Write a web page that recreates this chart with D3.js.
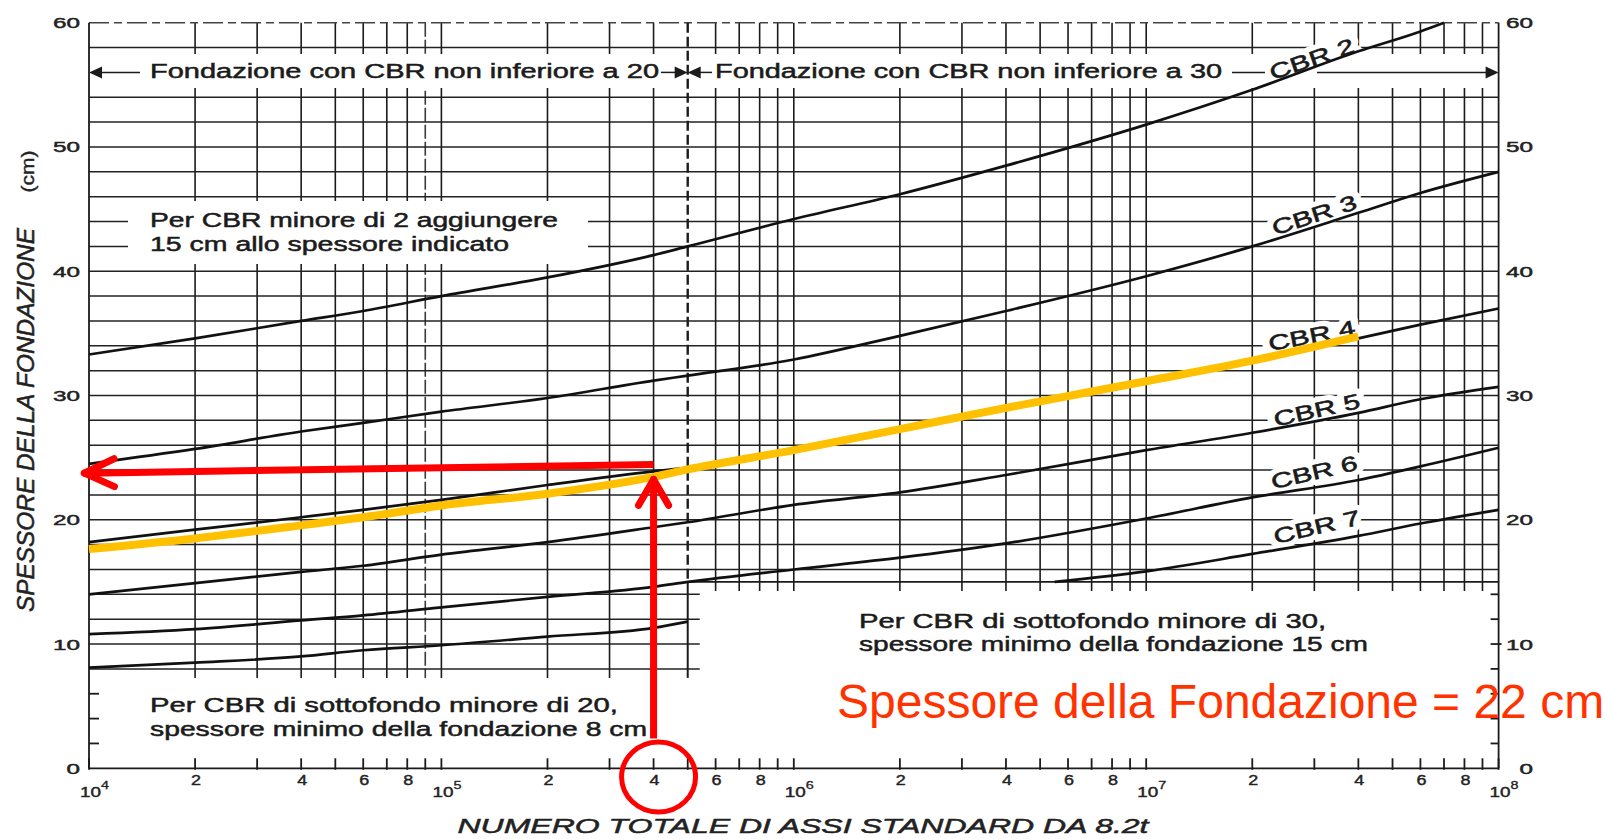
<!DOCTYPE html>
<html>
<head>
<meta charset="utf-8">
<script src="https://cdn.jsdelivr.net/npm/d3@7"></script>
<style>
  html, body { margin: 0; padding: 0; background: #fff; overflow: hidden; }
  svg { display: block; }
</style>
</head>
<body>
<svg id="abaco" width="1605" height="839"></svg>
<script>
// Numero totale di assi standard (punti di lettura delle curve)
const assi = [1e4, 2e4, 4e4, 6e4, 1e5, 2e5, 4e5, 5e5, 1e6, 2e6, 4e6, 5.5e6, 1e7, 2e7, 4e7, 6e7, 7e7, 1e8];

// Spessore della fondazione (cm) per ciascun CBR di sottofondo
const cbr2 = [33.3, 34.6, 36.0, 36.8, 38.0, 39.5, 41.3, 42.0, 44.2, 46.2, 48.5, null, 51.8, 54.6, 57.7, 59.3, 60.0, null];
const cbr3 = [24.5, 25.7, 27.1, 27.8, 28.7, 29.8, 31.2, 31.6, 32.9, 34.8, 36.8, null, 39.6, 42.0, 44.7, 46.3, null, 48.0];
const cbr4 = [18.2, 19.2, 20.2, 20.8, 21.6, 22.8, 23.9, 24.2, 25.7, 27.3, 29.0, null, 31.2, 32.8, 34.6, 35.7, null, 37.0];
const cbr5 = [14.0, 14.9, 15.8, 16.3, 17.2, 18.2, 19.4, 19.8, 21.2, 22.2, 23.6, null, 25.6, 27.0, 28.6, 29.7, null, 30.7];
const cbr6 = [10.8, 11.2, 11.9, 12.3, 12.95, 13.8, 14.6, 15.0, 16.0, 16.95, 18.1, null, 20.1, 21.8, 23.2, 24.3, null, 25.8];
const cbr7 = [8.1, 8.5, 9.0, 9.5, 9.9, 10.6, 11.3, 11.8, null, null, null, null, null, null, null, null, null, null];
const cbr7Oltre = [null, null, null, null, null, null, null, null, null, null, null, 15.0, 15.85, 17.25, 18.7, 19.7, null, 20.8];

// Curva evidenziata (CBR 4) usata per la lettura
const evidenziata = [17.65, 18.5, 19.55, 20.2, 21.15, 22.1, 23.45, 24.05, 25.6, 27.3, 29.0, null, 31.15, 32.8, 34.75, null, null, null];

const etichetteCbr = ["CBR 2", "CBR 3", "CBR 4", "CBR 5", "CBR 6", "CBR 7"];

// Assi: etichette
const decadi = [1e4, 1e5, 1e6, 1e7, 1e8];
const esponenti = ["4", "5", "6", "7", "8"];
const cifreTick = [2, 4, 6, 8];
const valoriY = [0, 10, 20, 30, 40, 50, 60];

// Lettura: asse di ingresso 4·10^5, spessore risultante
const letturaN = [4e5, 9.7e3];
const letturaCm = [24.45, 23.75];
const salitaCm = [2.4, 23.25];
const risultato = "Spessore della Fondazione = 22 cm";

// ---------------------------------------------------------------
const svg = d3.select("#abaco");
const FONT = "'Liberation Sans', Arial, Helvetica, sans-serif";
const INK = "#1b1b1b";

const x = d3.scaleLog().domain([1e4, 1e8]).range([89, 1498.6]);
const y = d3.scaleLinear().domain([0, 60]).range([768.3, 22.7]);

const X0 = x(1e4), X1 = x(1e8), XS = x(5e5);
const Y0 = y(0), YT = y(60);

function testo(g, str, opts) {
  const t = g.append("text")
    .attr("x", opts.x).attr("y", opts.y)
    .attr("font-family", FONT)
    .attr("font-size", opts.size)
    .attr("fill", opts.fill || INK)
    .attr("text-anchor", opts.anchor || "start")
    .text(str);
  if (opts.len) t.attr("textLength", opts.len).attr("lengthAdjust", "spacingAndGlyphs");
  if (opts.italic) t.attr("font-style", "italic");
  if (opts.transform) t.attr("transform", opts.transform);
  if (opts.peso) t.attr("stroke", opts.fill || INK).attr("stroke-width", opts.peso);
  return t;
}

// --- griglia -----------------------------------------------------
const suddivisioni = [];
for (let d = 4; d < 8; d++) for (let m = 1; m <= 9; m++) suddivisioni.push(m * 10 ** d);
suddivisioni.push(1e8);

const griglia = svg.append("g");
suddivisioni.filter(v => v > 1e4 && v < 1e8 && v !== 5e5).forEach(v => {
  const fondo = v < 5e5 ? y(8) + 9 : y(15) + 9;
  griglia.append("line")
    .attr("x1", x(v)).attr("x2", x(v)).attr("y1", YT).attr("y2", fondo)
    .attr("stroke", v === 9e4 ? "#3a3a3a" : INK)
    .attr("stroke-width", 1.6)
    .attr("stroke-dasharray", v === 9e4 ? "14 3" : null);
});

d3.range(8, 61, 2).filter(c => c !== 56).forEach(c => {
  const fine = c >= 16 ? X1 : XS + 12;
  griglia.append("line")
    .attr("x1", X0).attr("x2", fine).attr("y1", y(c)).attr("y2", y(c))
    .attr("stroke", c === 60 ? "#444" : "#222")
    .attr("stroke-width", 1.5)
    .attr("stroke-dasharray", c === 60 ? "20 5 8 5" : null);
});
griglia.append("line")
  .attr("x1", XS).attr("x2", X1).attr("y1", y(15)).attr("y2", y(15))
  .attr("stroke", INK).attr("stroke-width", 1.9);

// fasce bianche sotto le scritte
svg.append("rect").attr("x", X0 + 1).attr("y", 54).attr("width", X1 - X0 - 2).attr("height", 34).attr("fill", "#fff");
svg.append("rect").attr("x", 128).attr("y", 201).attr("width", 460).attr("height", 63).attr("fill", "#fff");

// separazione CBR 20 / CBR 30
svg.append("line")
  .attr("x1", XS).attr("x2", XS).attr("y1", YT).attr("y2", y(15))
  .attr("stroke", INK).attr("stroke-width", 2.4).attr("stroke-dasharray", "10 4");
svg.append("line")
  .attr("x1", XS).attr("x2", XS).attr("y1", y(15)).attr("y2", y(8) + 9)
  .attr("stroke", INK).attr("stroke-width", 2);

// --- assi ----------------------------------------------------------
const assiG = svg.append("g").attr("stroke", INK).attr("stroke-width", 1.8);
assiG.append("line").attr("x1", X0).attr("x2", X0).attr("y1", YT).attr("y2", Y0);
assiG.append("line").attr("x1", X1).attr("x2", X1).attr("y1", YT).attr("y2", Y0);
assiG.append("line").attr("x1", X0).attr("x2", X1).attr("y1", Y0).attr("y2", Y0);
suddivisioni.forEach(v => {
  assiG.append("line").attr("x1", x(v)).attr("x2", x(v)).attr("y1", Y0 - 10).attr("y2", Y0 + 1.5);
});
[2, 4, 6].forEach(c => assiG.append("line").attr("x1", X0).attr("x2", X0 + 10).attr("y1", y(c)).attr("y2", y(c)));
[2, 4, 6, 8, 10, 12, 14].forEach(c => assiG.append("line").attr("x1", X1 - 8).attr("x2", X1 + (c === 10 ? 3 : 0)).attr("y1", y(c)).attr("y2", y(c)));

const scritte = svg.append("g");
valoriY.forEach(v => {
  const s = String(v);
  testo(scritte, s, { x: 80, y: y(v) + 5.5, size: 14.5, anchor: "end", len: 13.5 * s.length, fill: "#222", peso: 0.45 });
  testo(scritte, s, { x: 1533, y: y(v) + 5.5, size: 14.5, anchor: "end", len: 13.5 * s.length, fill: "#222", peso: 0.45 });
});
decadi.slice(0, 4).forEach(d => {
  cifreTick.forEach(m => {
    testo(scritte, String(m), { x: x(m * d) + 1, y: 785, size: 14, anchor: "middle", len: 10, fill: "#222", peso: 0.4 });
  });
});
decadi.forEach((d, i) => {
  testo(scritte, "10", { x: x(d) - 9, y: 796.5, size: 14, len: 21, fill: "#222", peso: 0.4 });
  testo(scritte, esponenti[i], { x: x(d) + 12, y: 789, size: 10, len: 8, fill: "#222", peso: 0.3 });
});

// titoli degli assi
testo(scritte, "SPESSORE  DELLA  FONDAZIONE", { x: 0, y: 0, size: 23, italic: true, anchor: "middle", len: 384, transform: "translate(34,420) rotate(-90)", fill: "#222", peso: 0.5 });
testo(scritte, "(cm)", { x: 0, y: 0, size: 18, anchor: "middle", len: 42, transform: "translate(34,171.5) rotate(-90)", fill: "#222", peso: 0.4 });
testo(scritte, "NUMERO  TOTALE  DI  ASSI  STANDARD  DA  8.2t", { x: 457.5, y: 833, size: 21, italic: true, len: 691, fill: "#222", peso: 0.5 });

// --- curve CBR -------------------------------------------------------
const serie = [cbr2, cbr3, cbr4, cbr5, cbr6, cbr7, cbr7Oltre];
const punti = vals => assi.map((n, i) => [n, vals[i]]).filter(p => p[1] != null);
const linea = d3.line().x(p => x(p[0])).y(p => y(p[1])).curve(d3.curveMonotoneX);

const posEtichette = [
  { n: 2.95e7, cm: 57.06, ang: -19 },
  { n: 3.0e7, cm: 44.5, ang: -18 },
  { n: 2.95e7, cm: 34.8, ang: -11 },
  { n: 3.05e7, cm: 28.8, ang: -12.5 },
  { n: 3.0e7, cm: 23.8, ang: -13 },
  { n: 3.05e7, cm: 19.4, ang: -13 }
];
const etG = svg.append("g");
etichetteCbr.forEach((s, i) => {
  const p = posEtichette[i];
  testo(etG, s, { x: 0, y: 7, size: 21, anchor: "middle", len: 88, fill: "#fff",
    transform: `translate(${x(p.n)},${y(p.cm)}) rotate(${p.ang})` })
    .attr("stroke", "#fff").attr("stroke-width", 11).attr("stroke-linejoin", "round");
});

const curveG = svg.append("g").attr("fill", "none").attr("stroke", "#111").attr("stroke-width", 2.7);
serie.forEach(vals => curveG.append("path").attr("d", linea(punti(vals))));

const etT = svg.append("g");
etichetteCbr.forEach((s, i) => {
  const p = posEtichette[i];
  testo(etT, s, { x: 0, y: 7, size: 21, anchor: "middle", len: 88, fill: "#1a1a1a", peso: 0.6,
    transform: `translate(${x(p.n)},${y(p.cm)}) rotate(${p.ang})` });
});

// --- indicazioni in alto -------------------------------------------
const ya = y(56);
const freccia = (tip, dir) => `M${tip},${ya} L${tip - dir * 13},${ya - 6} L${tip - dir * 13},${ya + 6} Z`;
const bande = svg.append("g");
[[X0 + 10, 140], [661, XS - 12], [XS + 12, 712], [1232, 1265], [1317, X1 - 11]].forEach(([a, b]) => {
  bande.append("line").attr("x1", a).attr("x2", b).attr("y1", ya).attr("y2", ya).attr("stroke", INK).attr("stroke-width", 1.5);
});
[[X0, -1], [XS, 1], [XS, -1], [X1, 1]].forEach(([t, d]) => bande.append("path").attr("d", freccia(t, d)).attr("fill", INK));
testo(bande, "Fondazione con CBR non inferiore a 20", { x: 150, y: 78.3, size: 20, len: 509, peso: 0.5 });
testo(bande, "Fondazione con CBR non inferiore a 30", { x: 715, y: 78.3, size: 20, len: 507, peso: 0.5 });

// note
testo(scritte, "Per CBR minore di 2 aggiungere", { x: 150, y: 226.7, size: 20, len: 408, peso: 0.5 });
testo(scritte, "15 cm allo spessore indicato", { x: 150, y: 250.7, size: 20, len: 359, peso: 0.5 });
testo(scritte, "Per CBR di sottofondo minore di 20,", { x: 150, y: 712, size: 20, len: 468, peso: 0.5 });
testo(scritte, "spessore minimo della fondazione 8 cm", { x: 150, y: 736, size: 20, len: 497, peso: 0.5 });
testo(scritte, "Per CBR di sottofondo minore di 30,", { x: 859, y: 628, size: 20, len: 467, peso: 0.5 });
testo(scritte, "spessore minimo della fondazione 15 cm", { x: 859, y: 651, size: 20, len: 509, peso: 0.5 });

// --- lettura evidenziata ---------------------------------------------
svg.append("path")
  .attr("d", linea(punti(evidenziata)))
  .attr("fill", "none").attr("stroke", "#FFC000").attr("stroke-width", 8).attr("stroke-linecap", "butt");

const rosso = svg.append("g").attr("stroke", "#FF0000").attr("fill", "none");
function punta(g, tx, ty, fx, fy, lung, ang) {
  const a = Math.atan2(fy - ty, fx - tx);
  [ang, -ang].forEach(da => {
    g.append("line")
      .attr("x1", tx).attr("y1", ty)
      .attr("x2", tx + lung * Math.cos(a + da)).attr("y2", ty + lung * Math.sin(a + da))
      .attr("stroke-width", 7).attr("stroke-linecap", "round");
  });
}
// verso l'asse delle ordinate
rosso.append("line")
  .attr("x1", x(letturaN[0])).attr("y1", y(letturaCm[0]))
  .attr("x2", x(letturaN[1]) + 3).attr("y2", y(letturaCm[1]))
  .attr("stroke-width", 7);
punta(rosso, x(letturaN[1]), y(letturaCm[1]), x(letturaN[0]), y(letturaCm[0]), 33, 25 * Math.PI / 180);
// dall'asse delle ascisse alla curva
rosso.append("line")
  .attr("x1", x(letturaN[0])).attr("y1", y(salitaCm[0]))
  .attr("x2", x(letturaN[0])).attr("y2", y(salitaCm[1]) + 3)
  .attr("stroke-width", 7);
punta(rosso, x(letturaN[0]), y(salitaCm[1]), x(letturaN[0]), y(salitaCm[0]), 30, 30 * Math.PI / 180);
// valore di ingresso cerchiato
rosso.append("ellipse")
  .attr("cx", x(letturaN[0]) + 5).attr("cy", 777).attr("rx", 37).attr("ry", 35)
  .attr("stroke-width", 5);

testo(svg, risultato, { x: 837, y: 718, size: 48, fill: "#FF3300" });
</script>
</body>
</html>
